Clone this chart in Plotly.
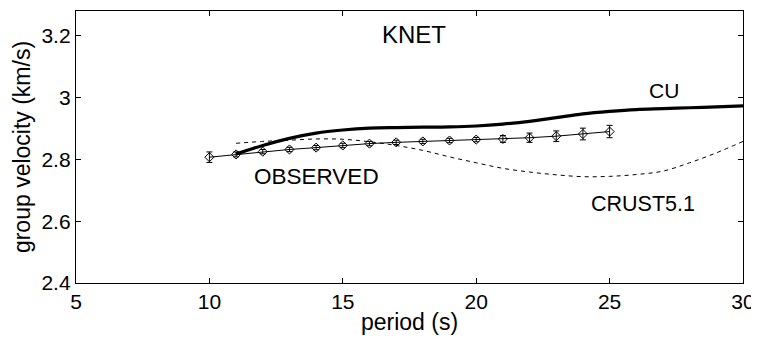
import plotly.graph_objects as go

# Observed group velocities with error bars
obs_period = [10, 11, 12, 13, 14, 15, 16, 17, 18, 19, 20, 21, 22, 23, 24, 25]
obs_vel = [2.807, 2.816, 2.825, 2.832, 2.838, 2.845, 2.851, 2.855, 2.858, 2.861,
           2.864, 2.866, 2.870, 2.875, 2.882, 2.890]
obs_err = [0.017, 0.008, 0.007, 0.007, 0.007, 0.007, 0.007, 0.007, 0.007, 0.007,
           0.007, 0.011, 0.015, 0.017, 0.019, 0.020]

# CU model prediction
cu_period = [11, 12, 13, 14, 15, 16, 17, 18, 19, 20, 21, 22, 23, 24, 25, 26, 27, 28, 29, 30]
cu_vel = [2.817, 2.845, 2.868, 2.885, 2.895, 2.901, 2.903, 2.904, 2.905, 2.908,
          2.914, 2.923, 2.935, 2.947, 2.955, 2.961, 2.964, 2.967, 2.970, 2.973]

# CRUST5.1 model prediction
cr_period = [11, 12, 13, 14, 15, 16, 17, 18, 19, 20, 21, 22, 23, 24, 25, 26, 27, 28, 29, 30]
cr_vel = [2.852, 2.858, 2.862, 2.866, 2.865, 2.857, 2.845, 2.829, 2.808, 2.789,
          2.771, 2.759, 2.750, 2.744, 2.745, 2.751, 2.762, 2.789, 2.821, 2.858]

x_ticks = [5, 10, 15, 20, 25, 30]
y_ticks = [2.4, 2.6, 2.8, 3.0, 3.2]
y_tick_labels = ["2.4", "2.6", "2.8", "3", "3.2"]

FONT = "Liberation Sans, Arial, Helvetica, sans-serif"

fig = go.Figure()
fig.add_trace(go.Scatter(x=cr_period, y=cr_vel, mode="lines", line_shape="spline",
                         line=dict(color="black", width=1, dash="4px,4px"), showlegend=False))
fig.add_trace(go.Scatter(x=cu_period, y=cu_vel, mode="lines", line_shape="spline",
                         line=dict(color="black", width=3.2), showlegend=False))
fig.add_trace(go.Scatter(x=obs_period, y=obs_vel, mode="lines+markers",
                         line=dict(color="black", width=1),
                         marker=dict(symbol="diamond-open", size=7, color="black",
                                     line=dict(width=1, color="black")),
                         error_y=dict(type="data", array=obs_err, color="black",
                                      thickness=1, width=3),
                         showlegend=False))

annots = [
    dict(x=17.67, y=3.205, text="KNET", size=24),
    dict(x=27.04, y=3.022, text="CU", size=21),
    dict(x=14.01, y=2.744, text="OBSERVED", size=22.5),
    dict(x=26.25, y=2.656, text="CRUST5.1", size=21.5),
]
for a in annots:
    fig.add_annotation(x=a["x"], y=a["y"], text=a["text"], showarrow=False,
                       xanchor="center", yanchor="middle",
                       font=dict(family=FONT, size=a["size"], color="black"))

axis_common = dict(showline=True, linecolor="black", linewidth=1.3, mirror="ticks",
                   ticks="inside", ticklen=5, tickwidth=1, tickcolor="black",
                   showgrid=False, zeroline=False, ticklabeloverflow="allow",
                   tickfont=dict(family=FONT, size=21, color="black"))

fig.update_xaxes(range=[5, 30], tickvals=x_ticks,
                 title=dict(text="period (s)", font=dict(family=FONT, size=23, color="black"),
                            standoff=4),
                 **axis_common)
fig.update_yaxes(range=[2.4, 3.28], tickvals=y_ticks, ticktext=y_tick_labels,
                 title=dict(text="group velocity (km/s)",
                            font=dict(family=FONT, size=23, color="black"), standoff=4),
                 **axis_common)

# page body has an 8px margin; size the figure so it fits inside the window
fig.update_layout(width=751, height=327, margin=dict(l=68, r=16, t=2, b=47, pad=0),
                  plot_bgcolor="white", paper_bgcolor="white",
                  font=dict(family=FONT, color="black"))

fig.write_html("out.html")
